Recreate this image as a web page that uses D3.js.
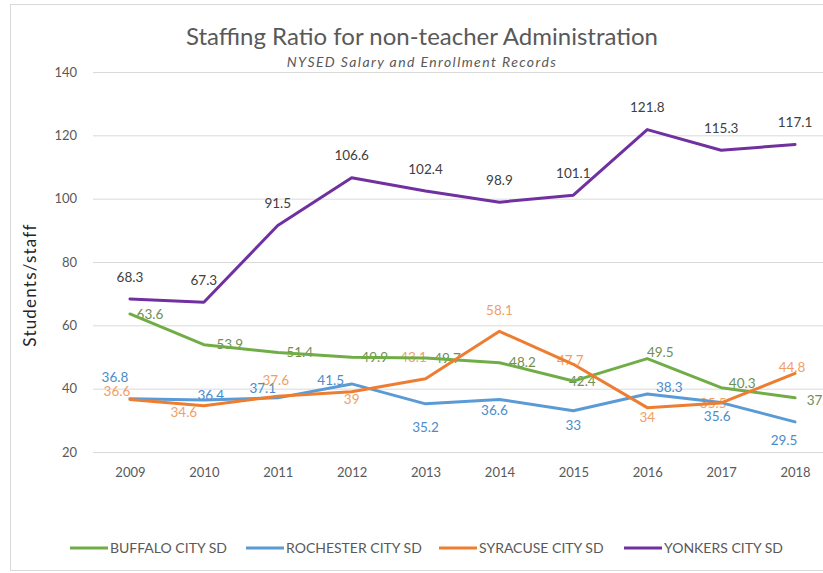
<!DOCTYPE html>
<html>
<head>
<meta charset="utf-8">
<script src="https://cdn.jsdelivr.net/npm/d3@7"></script>
<style>
	body { margin: 0; background: #fff; }
	svg { display: block; font-family: Lato, "Open Sans", sans-serif; }
</style>
</head>
<body>
<svg id="chart" width="823" height="573"></svg>
<script>
'use strict';

// data
var years = ["2009", "2010", "2011", "2012", "2013", "2014", "2015", "2016", "2017", "2018"];
var buffalo = [63.6, 53.9, 51.4, 49.9, 49.7, 48.2, 42.4, 49.5, 40.3, 37.1];
var rochester = [36.8, 36.4, 37.1, 41.5, 35.2, 36.6, 33, 38.3, 35.6, 29.5];
var syracuse = [36.6, 34.6, 37.6, 39, 43.1, 58.1, 47.7, 34, 35.5, 44.8];
var yonkers = [68.3, 67.3, 91.5, 106.6, 102.4, 98.9, 101.1, 121.8, 115.3, 117.1];
var yTicks = [20, 40, 60, 80, 100, 120, 140];

// hand placed label offsets (dx, dy), like the excel original
var buffaloLabelPos = [[20, 0], [26, 0], [22, 0], [23, 0], [22, 0], [23, 0], [9, 0], [13, -6], [21, -4], [25, 2]];
var rochesterLabelPos = [[-15, -22], [7, -5], [-15, -10], [-21, -4], [0, 23], [-5, 11], [0, 14], [22, -7], [-4, 14], [-11, 18]];
var syracuseLabelPos = [[-13, -8], [-20, 7], [-2, -16], [0, 7], [-12, -22], [0, -21], [-3, -4], [0, 10], [-8, 0], [-3, -6]];
var yonkersLabelPos = years.map(function () { return [0, -22]; });

var LEFT = 93, RIGHT = 832, TOP = 72, BOTTOM = 452;

var svg = d3.select("#chart");

// outer frame
svg.append("rect")
	.attr("x", 10.5)
	.attr("y", 4.5)
	.attr("width", 900)
	.attr("height", 566)
	.style("fill", "#fff")
	.style("stroke", "#d9d9d9");

var x = d3.scalePoint()
	.domain(years)
	.range([LEFT, RIGHT])
	.padding(0.5);

var y = d3.scaleLinear()
	.domain([20, 140])
	.range([BOTTOM, TOP]);

// gridlines + y tick labels
var yAxis = svg.append("g")
	.attr("transform", "translate(" + LEFT + ",0)")
	.call(d3.axisLeft(y).tickValues(yTicks).tickSize(-(RIGHT - LEFT)).tickPadding(16));

yAxis.select(".domain").remove();
yAxis.selectAll(".tick line").style("stroke", "#d9d9d9");
yAxis.selectAll(".tick text")
	.style("fill", "#595959")
	.style("font-size", "13px")
	.style("font-family", "Lato, sans-serif");

// x tick labels
var xAxis = svg.append("g")
	.attr("transform", "translate(0," + BOTTOM + ")")
	.call(d3.axisBottom(x).tickSize(0).tickPadding(16));

xAxis.select(".domain").remove();
xAxis.selectAll(".tick text")
	.style("fill", "#595959")
	.style("font-size", "13px")
	.style("font-family", "Lato, sans-serif");

// title
svg.append("text")
	.attr("x", 422)
	.attr("y", 45)
	.attr("text-anchor", "middle")
	.style("font-size", "24px")
	.style("fill", "#595959")
	.text("Staffing Ratio for non-teacher Administration");

svg.append("text")
	.attr("x", 422)
	.attr("y", 67)
	.attr("text-anchor", "middle")
	.style("font-size", "14px")
	.style("font-style", "italic")
	.style("letter-spacing", "1.4px")
	.style("fill", "#595959")
	.text("NYSED  Salary and Enrollment  Records");

svg.append("text")
	.attr("transform", "translate(36,285) rotate(-90)")
	.attr("text-anchor", "middle")
	.style("font-size", "17px")
	.style("letter-spacing", "1.2px")
	.style("fill", "#262626")
	.text("Students/staff");

var series = [
	{ name: "BUFFALO CITY SD", values: buffalo, color: "#70ad47", labelColor: "#6e8f55", pos: buffaloLabelPos },
	{ name: "ROCHESTER CITY SD", values: rochester, color: "#5b9bd5", labelColor: "#4a8ccc", pos: rochesterLabelPos },
	{ name: "SYRACUSE CITY SD", values: syracuse, color: "#ed7d31", labelColor: "#f0a066", pos: syracuseLabelPos },
	{ name: "YONKERS CITY SD", values: yonkers, color: "#7030a0", labelColor: "#404040", pos: yonkersLabelPos }
];

var line = d3.line()
	.x(function (d, i) { return x(years[i]); })
	.y(function (d) { return y(d); });

// data labels sit under the lines in the original
series.forEach(function (s) {
	svg.append("g")
		.selectAll("text")
		.data(s.values)
		.enter()
		.append("text")
		.attr("x", function (d, i) { return x(years[i]) + s.pos[i][0]; })
		.attr("y", function (d, i) { return y(d) + s.pos[i][1]; })
		.attr("dy", "0.35em")
		.attr("text-anchor", "middle")
		.style("font-size", "13.5px")
		.style("fill", s.labelColor)
		.text(function (d) { return d; });
});

series.forEach(function (s) {
	svg.append("path")
		.datum(s.values)
		.attr("d", line)
		.style("fill", "none")
		.style("stroke", s.color)
		.style("stroke-width", 3)
		.style("stroke-linejoin", "round")
		.style("stroke-linecap", "round");
});

// legend
var legendX = [70, 246, 439, 624];
var legend = svg.append("g");

series.forEach(function (s, i) {
	var g = legend.append("g")
		.attr("transform", "translate(" + legendX[i] + ",548)");
	g.append("line")
		.attr("x1", 0)
		.attr("x2", 38)
		.style("stroke", s.color)
		.style("stroke-width", 3);
	g.append("text")
		.attr("x", 40)
		.attr("dy", "0.35em")
		.style("font-size", "14px")
		.style("fill", "#595959")
		.text(s.name);
});
</script>
</body>
</html>
